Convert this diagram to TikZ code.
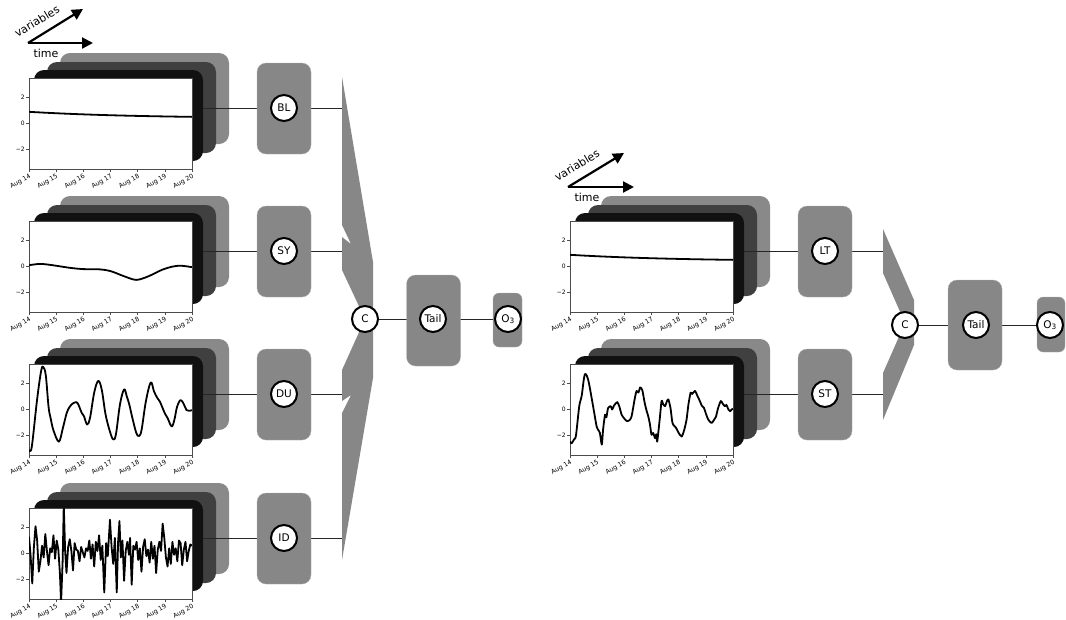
\documentclass[tikz,border=0pt]{standalone}
\usepackage{fontspec}
\setmainfont{DejaVu Sans}
\usetikzlibrary{arrows.meta}
\pgfdeclarelayer{lines}\pgfdeclarelayer{boxes}\pgfdeclarelayer{top}
\pgfsetlayers{main,lines,boxes,top}
\definecolor{cardA}{HTML}{898989}
\definecolor{cardB}{HTML}{404040}
\definecolor{cardC}{HTML}{111111}
\definecolor{modgray}{HTML}{878787}
\tikzset{
 card/.style={rectangle, rounded corners=10pt, minimum width=169pt, minimum height=91pt, inner sep=0pt},
 frame/.style={rectangle, fill=white, draw=black!70, line width=0.6pt, minimum width=163pt, minimum height=91pt, inner sep=0pt},
 module/.style={rectangle, rounded corners=9pt, fill=modgray, draw=black!30, line width=0.3pt, minimum width=54pt, minimum height=91pt, inner sep=0pt},
 unit/.style={circle, fill=white, draw=black, line width=2pt, minimum size=26pt, inner sep=0pt, font=\fontsize{10.5}{11}\selectfont},
 conn/.style={draw=black!85, line width=0.8pt},
 curve/.style={line width=1.8pt, line join=round},
 tickmark/.style={line width=0.5pt, draw=black!70},
 yticklab/.style={font=\fontsize{6}{7}\selectfont, inner sep=1pt},
 xticklab/.style={font=\fontsize{6.3}{7}\selectfont, inner sep=0.5pt},
 bigarrow/.style={line width=2.2pt, -{Triangle[length=11pt,width=11pt]}},
 axlabel/.style={font=\fontsize{11}{12}\selectfont, inner sep=0pt},
}
\newcommand\tspanel[4]{%
  \node[card, fill=cardA] (#1a) at ({#2+31+84.5},{#3-25+45.5}) {};
  \node[card, fill=cardB] (#1b) at ({#2+18+84.5},{#3-16+45.5}) {};
  \node[card, fill=cardC] (#1c) at ({#2+5+84.5},{#3-8+45.5}) {};
  \node[frame] (#1f) at ({#2+81.5},{#3+45.5}) {};
  \begin{scope}[shift={(#2,#3+45.5)}, x=27.1667pt, y=13pt]
    \begin{scope}
      \clip (0,-3.5) rectangle (6,3.5);
      #4
    \end{scope}
    \foreach \v/\l in {2/2,0/0,-2/−2} {\draw[tickmark] (0,\v) -- ++(-3pt,0pt) node[left, yticklab] {\l};}
    \foreach \d in {0,...,6} {\pgfmathtruncatemacro\dd{14+\d}\draw[tickmark] (\d,-3.5) -- ++(0pt,-3pt) node[anchor=north east, rotate=30, xticklab] {Aug \dd};}
  \end{scope}
}
\begin{document}
\begin{tikzpicture}[x=1pt,y=-1pt]
\useasboundingbox (0,0) rectangle (1066,619);

% ---------- left: axes arrows ----------
\coordinate (o1) at (28,43);
\coordinate (t1) at (93,43);
\coordinate (v1) at (83,9);
\draw[bigarrow] (o1) -- (t1);
\draw[bigarrow] (o1) -- (v1);
\node[axlabel, rotate=31] (vl1) at (37,21) {variables};
\node[axlabel] (tl1) at (46,53) {time};

% ---------- left: panels ----------
\tspanel{p1}{29}{78}{\draw[curve] plot[domain=0:6,samples=30,smooth] (\x,{0.4+0.5*exp(-\x/4)});}
\tspanel{p2}{29}{221}{\draw[curve] plot[smooth] coordinates {(0,0.1)(0.4,0.2)(0.8,0.12)(1.5,-0.1)(2.0,-0.2)(2.6,-0.22)(3.0,-0.35)(3.5,-0.75)(3.95,-1.03)(4.4,-0.75)(4.9,-0.25)(5.3,0.0)(5.6,0.06)(6,-0.05)};}
\tspanel{p3}{29}{364}{\draw[curve] plot[smooth, tension=0.6] coordinates {(0,-3.1)(0.05,-3.2)(0.12,-2.6)(0.3,0.8)(0.45,3.0)(0.53,3.25)(0.62,2.6)(0.72,0.2)(0.8,-0.7)(0.9,-1.6)(1.1,-2.47)(1.25,-1.4)(1.4,-0.2)(1.55,0.35)(1.7,0.55)(1.8,0.45)(1.94,-0.26)(2.02,-0.5)(2.14,-1.15)(2.25,-0.6)(2.4,1.3)(2.55,2.2)(2.68,1.5)(2.82,-0.4)(2.98,-1.7)(3.1,-2.3)(3.2,-1.9)(3.35,0.4)(3.5,1.55)(3.6,1.0)(3.69,0.4)(3.8,-0.6)(3.95,-1.8)(4.06,-2.03)(4.15,-1.5)(4.3,0.6)(4.48,2.08)(4.6,1.4)(4.72,0.9)(4.82,0.6)(5.0,-0.3)(5.1,-0.65)(5.25,-1.3)(5.35,-0.8)(5.45,0.2)(5.58,0.73)(5.7,0.4)(5.8,-0.05)(5.9,-0.1)(6,-0.05)};}
\tspanel{p4}{29}{508}{\draw[curve] plot coordinates {(0.00,1.3)(0.06,-0.2)(0.12,-2.3)(0.18,0.5)(0.24,2.1)(0.30,1.0)(0.36,-1.4)(0.42,-0.6)(0.48,0.6)(0.54,-0.3)(0.60,1.5)(0.66,0.2)(0.72,-0.9)(0.78,0.4)(0.84,0.1)(0.90,1.4)(0.96,-0.4)(1.02,1.0)(1.08,0.3)(1.14,-1.6)(1.18,-3.8)(1.24,-0.5)(1.28,3.8)(1.33,0.2)(1.38,-1.5)(1.44,0.5)(1.50,1.1)(1.56,0.2)(1.62,-1.3)(1.68,0.8)(1.74,0.3)(1.80,0.2)(1.86,-0.6)(1.92,0.5)(1.98,0.1)(2.04,-0.3)(2.10,0.4)(2.16,0.2)(2.22,1.0)(2.28,-0.4)(2.34,0.7)(2.40,-1.0)(2.46,0.9)(2.52,0.2)(2.58,1.4)(2.64,-0.5)(2.70,0.6)(2.77,-3.0)(2.84,0.8)(2.90,-0.2)(2.98,2.6)(3.04,0.5)(3.10,-0.8)(3.16,1.2)(3.23,-3.0)(3.28,0.9)(3.33,2.5)(3.38,-0.3)(3.44,1.0)(3.50,-2.1)(3.56,0.2)(3.62,0.9)(3.68,-0.1)(3.72,1.2)(3.78,-2.4)(3.84,0.6)(3.90,0.3)(3.96,0.9)(4.02,-0.5)(4.08,0.4)(4.14,-1.4)(4.20,0.5)(4.26,1.1)(4.32,-0.2)(4.38,0.3)(4.44,-0.7)(4.50,0.9)(4.56,-0.4)(4.62,0.6)(4.68,-1.5)(4.74,0.3)(4.80,0.9)(4.86,0.2)(4.92,2.3)(4.98,1.2)(5.04,-0.3)(5.10,-1.0)(5.16,0.4)(5.22,-0.8)(5.28,0.9)(5.34,-0.1)(5.40,0.4)(5.46,-0.6)(5.52,1.0)(5.58,0.8)(5.64,-0.9)(5.70,0.3)(5.76,0.9)(5.82,-0.6)(5.88,0.2)(5.94,0.7)(6.00,0.6)};}

% ---------- left: modules ----------
\coordinate (fl) at (342,0);
\begin{pgfonlayer}{boxes}
  \node[module] (BLbox) at (284,108.5) {};
  \node[module] (SYbox) at (284,251.5) {};
  \node[module] (DUbox) at (284,394.5) {};
  \node[module] (IDbox) at (284,538.5) {};
  \node[module] (Tailbox) at (433.5,320.5) {};
  \node[module, minimum width=29pt, minimum height=54pt, rounded corners=6pt] (Obox) at (507.5,320) {};
  \fill[modgray] (342,77) -- (373,262) -- (373,378) -- (342,560) -- (342,413) -- (351,395) -- (342,401) -- (342,370) -- (365,319) -- (342,270) -- (342,237) -- (351,244) -- (342,225) -- cycle;
\end{pgfonlayer}
\begin{pgfonlayer}{top}
  \node[unit] (BL) at (284,108) {BL};
  \node[unit] (SY) at (284,251) {SY};
  \node[unit] (DU) at (284,394) {DU};
  \node[unit] (ID) at (284,538) {ID};
  \node[unit] (C1) at (365,319) {C};
  \node[unit] (Tail1) at (433,319) {Tail};
  \node[unit] (O1) at (508,319) {O\textsubscript{3}};
\end{pgfonlayer}
\begin{pgfonlayer}{lines}
  \draw[conn] (BL -| p1c.east) -- (BL) -- (BL -| fl);
  \draw[conn] (SY -| p2c.east) -- (SY) -- (SY -| fl);
  \draw[conn] (DU -| p3c.east) -- (DU) -- (DU -| fl);
  \draw[conn] (ID -| p4c.east) -- (ID) -- (ID -| fl);
  \draw[conn] (C1) -- (Tail1) -- (O1);
\end{pgfonlayer}

% ---------- right: axes arrows ----------
\coordinate (o2) at (568,187);
\coordinate (t2) at (634,187);
\coordinate (v2) at (624,153);
\draw[bigarrow] (o2) -- (t2);
\draw[bigarrow] (o2) -- (v2);
\node[axlabel, rotate=31] (vl2) at (577,165) {variables};
\node[axlabel] (tl2) at (587,197) {time};

% ---------- right: panels ----------
\tspanel{q1}{570}{221}{\draw[curve] plot[domain=0:6,samples=30,smooth] (\x,{0.4+0.5*exp(-\x/4)});}
\tspanel{q2}{570}{364}{\draw[curve] plot[smooth, tension=0.4] coordinates {(0,-2.47)(0.06,-2.6)(0.15,-2.3)(0.22,-2.0)(0.34,0.26)(0.43,1.04)(0.5,2.2)(0.55,2.73)(0.62,2.6)(0.7,2.0)(0.86,0.13)(0.98,-1.3)(1.05,-1.6)(1.1,-1.8)(1.17,-2.7)(1.22,-1.5)(1.29,-0.4)(1.34,-0.6)(1.4,0.1)(1.5,0.26)(1.55,0.0)(1.62,0.3)(1.74,0.57)(1.82,0.2)(1.9,-0.4)(2.0,-0.7)(2.1,-0.9)(2.2,-0.8)(2.27,-0.5)(2.38,0.8)(2.45,1.43)(2.52,1.3)(2.58,1.69)(2.66,1.5)(2.75,0.5)(2.82,-0.1)(2.88,-0.52)(2.94,-1.1)(3.0,-1.95)(3.06,-1.8)(3.13,-2.2)(3.18,-1.9)(3.21,-2.47)(3.3,-0.8)(3.37,0.65)(3.43,0.4)(3.5,0.26)(3.56,0.6)(3.62,0.78)(3.7,0.1)(3.76,-0.9)(3.8,-1.17)(3.9,-1.4)(4.0,-1.8)(4.11,-2.08)(4.2,-1.6)(4.29,-0.78)(4.36,0.4)(4.44,1.3)(4.5,1.2)(4.6,1.43)(4.7,1.0)(4.78,0.65)(4.85,0.3)(4.93,0.13)(5.0,-0.3)(5.09,-0.78)(5.21,-1.04)(5.3,-0.8)(5.37,-0.57)(5.45,0.1)(5.55,0.65)(5.62,0.45)(5.7,0.26)(5.76,0.35)(5.82,0.05)(5.89,-0.13)(5.95,0.0)(6.0,0.05)};}

% ---------- right: modules ----------
\coordinate (fr) at (883,0);
\begin{pgfonlayer}{boxes}
  \node[module] (LTbox) at (825,251.5) {};
  \node[module] (STbox) at (825,394.5) {};
  \node[module, minimum height=90pt] (Tailbox2) at (975,325) {};
  \node[module, minimum width=28pt, minimum height=55pt, rounded corners=6pt] (Obox2) at (1051,324.5) {};
  \fill[modgray] (883,229) -- (914,300) -- (914,345) -- (883,420) -- (883,373) -- (905,323) -- (883,273) -- cycle;
\end{pgfonlayer}
\begin{pgfonlayer}{top}
  \node[unit] (LT) at (825,251) {LT};
  \node[unit] (ST) at (825,394) {ST};
  \node[unit] (C2) at (905,325) {C};
  \node[unit] (Tail2) at (976,325) {Tail};
  \node[unit] (O2) at (1050,325) {O\textsubscript{3}};
\end{pgfonlayer}
\begin{pgfonlayer}{lines}
  \draw[conn] (LT -| q1c.east) -- (LT) -- (LT -| fr);
  \draw[conn] (ST -| q2c.east) -- (ST) -- (ST -| fr);
  \draw[conn] (C2) -- (Tail2) -- (O2);
\end{pgfonlayer}
\end{tikzpicture}
\end{document}
